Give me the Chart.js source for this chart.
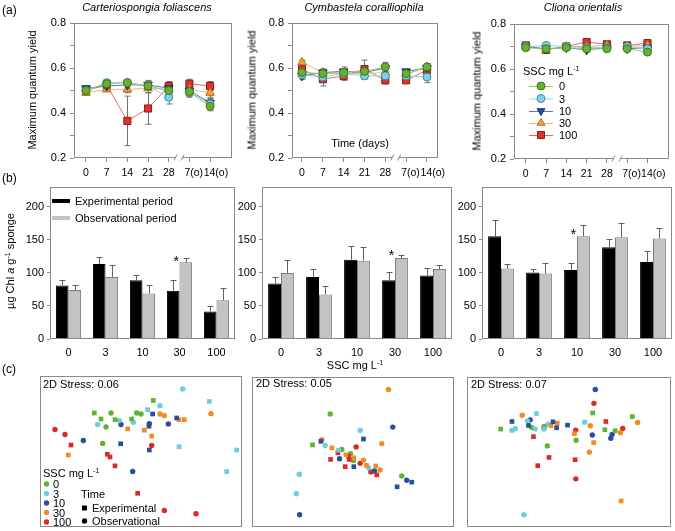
<!DOCTYPE html>
<html>
<head>
<meta charset="utf-8">
<script src="https://cdn.jsdelivr.net/npm/chart.js@4.4.0/dist/chart.umd.min.js"></script>
<style>
body { margin: 0; background: #fff; }
#fig { position: relative; width: 675px; height: 531px; overflow: hidden;
       font-family: "Liberation Sans", Arial, sans-serif; font-size: 11px; color: #000; }
#fig canvas { position: absolute; left: 0; top: 0; }
.t { position: absolute; white-space: nowrap; line-height: 1; transform: translate(-50%, -50%); }
.l { position: absolute; white-space: nowrap; line-height: 1; transform: translate(0, -50%); }
.v { position: absolute; white-space: nowrap; line-height: 1; transform: translate(-50%, -50%) rotate(-90deg); }
.sup { font-size: 7px; position: relative; top: -4px; }
.sw { position: absolute; }
</style>
</head>
<body>
<div id="fig">
  <canvas id="a1" width="675" height="531"></canvas>
  <canvas id="a2" width="675" height="531"></canvas>
  <canvas id="a3" width="675" height="531"></canvas>
  <canvas id="b1" width="675" height="531"></canvas>
  <canvas id="b2" width="675" height="531"></canvas>
  <canvas id="b3" width="675" height="531"></canvas>
  <canvas id="c1" width="675" height="531"></canvas>
  <canvas id="c2" width="675" height="531"></canvas>
  <canvas id="c3" width="675" height="531"></canvas>

  <div class="l" style="left:2px;top:10px;font-size:12px">(a)</div>
  <div class="l" style="left:2px;top:178px;font-size:12px">(b)</div>
  <div class="l" style="left:2px;top:369px;font-size:12px">(c)</div>

  <div class="t" style="left:147px;top:7px;font-style:italic">Carteriospongia foliascens</div>
  <div class="t" style="left:364px;top:7px;font-style:italic">Cymbastela coralliophila</div>
  <div class="t" style="left:583px;top:7px;font-style:italic">Cliona orientalis</div>

  <div class="v" style="left:32px;top:90px">Maximum quantum yield</div>
  <div class="v" style="left:252px;top:90px">Maximum quantum yield</div>
  <div class="v" style="left:477px;top:91px">Maximum quantum yield</div>
  <div class="t" style="left:360px;top:143px">Time (days)</div>

  <div class="l" style="left:523px;top:71px">SSC mg L<span class="sup">-1</span></div>
  <div class="l" style="left:559px;top:86px">0</div>
  <div class="l" style="left:559px;top:98.5px">3</div>
  <div class="l" style="left:559px;top:111px">10</div>
  <div class="l" style="left:559px;top:123px">30</div>
  <div class="l" style="left:559px;top:135px">100</div>

  <div class="v" style="left:10px;top:261px">µg Chl <i>a</i> g<span class="sup">-1</span> sponge</div>
  <div class="sw" style="left:52px;top:199px;width:18px;height:4px;background:#000"></div>
  <div class="sw" style="left:52px;top:216px;width:18px;height:4px;background:#c3c3c3"></div>
  <div class="l" style="left:75px;top:200.5px">Experimental period</div>
  <div class="l" style="left:75px;top:218px">Observational period</div>
  <div class="t" style="left:355px;top:365px">SSC mg L<span class="sup">-1</span></div>

  <div class="l" style="left:43px;top:384px">2D Stress: 0.06</div>
  <div class="l" style="left:256px;top:383px">2D Stress: 0.05</div>
  <div class="l" style="left:471px;top:384px">2D Stress: 0.07</div>

  <div class="l" style="left:43px;top:473px">SSC mg L<span class="sup">-1</span></div>
  <div class="l" style="left:53px;top:484px">0</div>
  <div class="l" style="left:53px;top:493.5px">3</div>
  <div class="l" style="left:53px;top:503px">10</div>
  <div class="l" style="left:53px;top:512.5px">30</div>
  <div class="l" style="left:53px;top:522px">100</div>
  <div class="l" style="left:81px;top:494px">Time</div>
  <div class="l" style="left:92px;top:508px">Experimental</div>
  <div class="l" style="left:92px;top:521px">Observational</div>
</div>

<script>
// ---- data ----
var timeLabels = ['0', '7', '14', '21', '28', '7(o)', '14(o)'];
var sscLabels = ['0', '3', '10', '30', '100'];

// (a) maximum quantum yield, one row per SSC level (0, 3, 10, 30, 100)
var yieldCf = [
    [0.50, 0.53, 0.535, 0.52, 0.50, 0.495, 0.43],
    [0.50, 0.535, 0.535, 0.52, 0.47, 0.49, 0.44],
    [0.51, 0.52, 0.525, 0.525, 0.51, 0.50, 0.445],
    [0.49, 0.505, 0.505, 0.51, 0.505, 0.505, 0.49],
    [0.50, 0.525, 0.365, 0.42, 0.52, 0.53, 0.52]
];
var yieldCfErr = [
    [0.01, 0.01, 0.01, 0.015, 0.02, 0.02, 0.02],
    [0.01, 0.01, 0.01, 0.02, 0.03, 0.02, 0.02],
    [0.01, 0.01, 0.01, 0.02, 0.02, 0.02, 0.02],
    [0.01, 0.01, 0.015, 0.02, 0.02, 0.02, 0.02],
    [0.02, 0.02, 0.11, 0.07, 0.02, 0.02, 0.02]
];
var yieldCc = [
    [0.58, 0.575, 0.58, 0.585, 0.605, 0.575, 0.605],
    [0.57, 0.56, 0.575, 0.565, 0.565, 0.565, 0.56],
    [0.565, 0.58, 0.585, 0.58, 0.60, 0.585, 0.60],
    [0.625, 0.58, 0.575, 0.575, 0.58, 0.57, 0.605],
    [0.595, 0.55, 0.565, 0.595, 0.545, 0.545, 0.59]
];
var yieldCcErr = [
    [0.015, 0.015, 0.015, 0.015, 0.02, 0.015, 0.015],
    [0.015, 0.015, 0.015, 0.015, 0.015, 0.015, 0.025],
    [0.015, 0.015, 0.02, 0.015, 0.015, 0.01, 0.015],
    [0.01, 0.015, 0.015, 0.02, 0.015, 0.015, 0.015],
    [0.02, 0.03, 0.02, 0.04, 0.015, 0.01, 0.015]
];
var yieldCo = [
    [0.695, 0.69, 0.695, 0.69, 0.69, 0.69, 0.675],
    [0.70, 0.705, 0.70, 0.695, 0.695, 0.70, 0.69],
    [0.70, 0.69, 0.695, 0.685, 0.695, 0.69, 0.695],
    [0.70, 0.685, 0.70, 0.70, 0.705, 0.70, 0.705],
    [0.705, 0.685, 0.70, 0.72, 0.71, 0.705, 0.715]
];
var yieldCoErr = [
    [0.01, 0.01, 0.01, 0.01, 0.01, 0.01, 0.01],
    [0.01, 0.01, 0.01, 0.01, 0.01, 0.01, 0.01],
    [0.01, 0.01, 0.01, 0.01, 0.01, 0.01, 0.01],
    [0.01, 0.01, 0.01, 0.01, 0.01, 0.01, 0.01],
    [0.01, 0.01, 0.01, 0.012, 0.01, 0.01, 0.01]
];

// (b) chlorophyll a, per SSC level
var chlCfExp = [81, 113.5, 89, 73, 41.5];
var chlCfExpErr = [9, 10, 8, 17, 8.5];
var chlCfObs = [74, 94, 69, 116, 58.5];
var chlCfObsErr = [8, 18, 13, 6, 19];
var chlCcExp = [84, 94, 120, 89, 96];
var chlCcExpErr = [10, 12, 20, 12.5, 11.5];
var chlCcObs = [100, 67.5, 118.5, 122.5, 106];
var chlCcObsErr = [19, 12.5, 20.5, 4, 5.5];
var chlCoExp = [155.5, 100.5, 104.5, 139, 116.5];
var chlCoExpErr = [24, 5, 10, 12, 16];
var chlCoObs = [106.5, 99, 155.5, 154, 152];
var chlCoObsErr = [7.5, 15.5, 17.5, 21, 16];
// significant difference marker: [category index, height]
var starCf = [3, 121];
var starCc = [3, 130];
var starCo = [2, 162];

// (c) nMDS ordination (arbitrary units, axis 2 pointing down): [x, y, ssc index, period 0=exp 1=obs]
var nmdsCf = [
    [283,250,0,0],[303,268,0,0],[345,270,0,0],[395,268,0,0],[460,212,0,0],
    [333,250,0,1],[410,250,0,1],[423,253,0,1],[318,292,0,1],[308,342,0,1],
    [443,240,1,0],[628,215,1,0],[537,352,1,0],[680,427,1,0],[710,362,1,0],
    [293,285,1,1],[358,273,1,1],[400,278,1,1],[480,228,1,1],[548,177,1,1],
    [458,253,2,0],[530,265,2,0],[447,290,2,0],[362,343,2,0],[448,362,2,0],
    [363,285,2,1],[448,282,2,1],[505,283,2,1],[250,333,2,1],[398,427,2,1],
    [537,270,3,0],[553,270,3,0],[433,302,3,0],[383,298,3,0],[455,320,3,0],[205,377,3,0],
    [480,253,3,1],[493,258,3,1],[633,252,3,1],
    [213,347,4,0],[322,375,4,0],[330,383,4,0],[345,410,4,0],[413,493,4,0],
    [165,300,4,1],[195,315,4,1],[455,348,4,1],[493,545,4,1],[588,555,4,1]
];
var nmdsCc = [
    [262,346,0,0],
    [315,252,0,1],[350,360,0,1],[376,373,0,1],[385,393,0,1],[530,440,0,1],
    [340,362,1,0],
    [405,302,1,1],[300,348,1,1],[380,390,1,1],[430,415,1,1],[222,435,1,1],[213,494,1,1],
    [415,328,2,0],[287,335,2,0],[386,412,2,0],[560,459,2,0],[516,473,2,0],
    [503,292,2,1],[343,388,2,1],[448,425,2,1],[545,453,2,1],[223,558,2,1],
    [290,330,3,0],[320,355,3,0],[362,376,3,0],[386,385,3,0],[424,408,3,0],[452,410,3,0],
    [490,178,3,1],[470,342,3,1],[415,392,3,1],[465,422,3,1],
    [338,370,4,0],[370,380,4,0],[372,390,4,0],[316,390,4,0],[360,412,4,0],[455,437,4,0],
    [393,352,4,1],[405,402,4,1],[437,428,4,1]
];
var nmdsCo = [
    [462,251,0,0],[184,300,0,0],[582,262,0,0],[499,302,0,0],[530,305,0,0],
    [278,295,0,1],[315,292,0,1],[412,334,0,1],[325,351,0,1],
    [292,253,1,0],[288,300,1,0],[315,300,1,0],
    [265,275,1,1],[218,304,1,1],[228,299,1,1],[327,285,1,1],[438,279,1,1],[254,560,1,1],
    [218,277,2,0],[268,289,2,0],[342,278,2,0],[353,296,2,0],[386,288,2,0],
    [470,180,2,1],[273,272,2,1],[461,318,2,1],[521,316,2,1],[517,328,2,1],
    [355,282,3,0],[336,290,3,0],[407,314,3,0],[465,341,3,0],[548,518,3,0],
    [249,258,3,1],[455,290,3,1],[598,280,3,1],[546,311,3,1],[452,370,3,1],
    [502,277,4,0],[283,323,4,0],[330,386,4,0],[296,411,4,0],[409,393,4,0],
    [466,222,4,1],[315,297,4,1],[411,303,4,1],[553,298,4,1],[411,451,4,1]
];

// ---- styles ----
var W = 675, H = 531;
var frameColor = '#8a8a8a';
var sscFill = ['#66b032', '#84d0e6', '#2b4c9b', '#f5a03c', '#e0302a'];
var sscEdge = ['#3d7a1c', '#3a8ba8', '#182d66', '#b86a1c', '#8c1c15'];
var sscLine = ['#92c96e', '#8fd3e6', '#5a74bb', '#f2b27a', '#e66a62'];
var sscShape = ['circle', 'circle', 'triangle', 'triangle', 'rect'];
var sscRot = [0, 0, 180, 0, 0];
var sscRad = [4, 4, 5, 5, 5];
var nmdsColor = ['#5cb531', '#6ecbe2', '#2a4d9f', '#f28a25', '#dc2a25'];

Chart.defaults.font.family = '"Liberation Sans", Arial, sans-serif';
Chart.defaults.font.size = 11;
Chart.defaults.color = '#000';
Chart.defaults.plugins.legend.display = false;
Chart.defaults.plugins.tooltip.enabled = false;

function padFor(box, left, bottom) {
    return { left: box.x - left, top: box.y, right: W - box.x - box.w, bottom: H - box.y - box.h - bottom };
}

// the "(o)" labels keep the day number over the tick, as in the original figure
function timeTick(v) {
    var s = timeLabels[v];
    if (s == '7(o)') return '\u2007\u2008' + s;
    if (s == '14(o)') return '\u2007\u2007' + s;
    return s;
}

function shape(c, kind, x, y, r) {
    c.beginPath();
    if (kind == 'circle') {
        c.arc(x, y, r, 0, Math.PI * 2);
    } else if (kind == 'rect') {
        c.rect(x - r, y - r, r * 2, r * 2);
    } else if (kind == 'up') {
        c.moveTo(x, y - r); c.lineTo(x + r * 0.87, y + r / 2); c.lineTo(x - r * 0.87, y + r / 2); c.closePath();
    } else {
        c.moveTo(x, y + r); c.lineTo(x + r * 0.87, y - r / 2); c.lineTo(x - r * 0.87, y - r / 2); c.closePath();
    }
}

// box around plot area, optional axis break
var framePlugin = {
    id: 'frame',
    afterDraw: function(chart, args, opts) {
        var a = chart.chartArea, c = chart.ctx;
        c.save();
        c.strokeStyle = frameColor;
        c.lineWidth = 1;
        c.strokeRect(Math.round(a.left) + 0.5, Math.round(a.top) + 0.5,
                     Math.round(a.right - a.left) - 1, Math.round(a.bottom - a.top) - 1);
        if (opts.breakAt != null) {
            var xb = chart.scales.x.getPixelForValue(opts.breakAt);
            var yb = Math.round(a.bottom) - 0.5;
            c.fillStyle = '#fff';
            c.fillRect(xb - 3, yb - 3, 6, 8);
            c.beginPath();
            c.moveTo(xb - 5, yb + 3); c.lineTo(xb - 2, yb - 3);
            c.moveTo(xb + 2, yb + 3); c.lineTo(xb + 5, yb - 3);
            c.stroke();
        }
        c.restore();
    }
};

var lineErrPlugin = {
    id: 'lineErr',
    beforeDatasetsDraw: function(chart) {
        var c = chart.ctx, xs = chart.scales.x, ys = chart.scales.y;
        c.save();
        c.strokeStyle = '#707070';
        c.lineWidth = 1;
        chart.data.datasets.forEach(function(ds) {
            ds.data.forEach(function(p, i) {
                var e = ds.errors[i];
                var x = Math.round(xs.getPixelForValue(p.x)) + 0.5;
                var y1 = ys.getPixelForValue(p.y - e), y2 = ys.getPixelForValue(p.y + e);
                c.beginPath();
                c.moveTo(x, y1); c.lineTo(x, y2);
                c.moveTo(x - 3, y1); c.lineTo(x + 3, y1);
                c.moveTo(x - 3, y2); c.lineTo(x + 3, y2);
                c.stroke();
            });
        });
        c.restore();
    }
};

var barErrPlugin = {
    id: 'barErr',
    afterDatasetsDraw: function(chart, args, opts) {
        var c = chart.ctx, ys = chart.scales.y;
        c.save();
        c.strokeStyle = '#606060';
        c.lineWidth = 1;
        chart.data.datasets.forEach(function(ds, d) {
            var meta = chart.getDatasetMeta(d);
            ds.data.forEach(function(v, i) {
                var x = Math.round(meta.data[i].x) + 0.5;
                var y1 = ys.getPixelForValue(v), y2 = Math.round(ys.getPixelForValue(v + ds.errors[i])) + 0.5;
                c.beginPath();
                c.moveTo(x, y1); c.lineTo(x, y2);
                c.moveTo(x - 3, y2); c.lineTo(x + 3, y2);
                c.stroke();
            });
        });
        if (opts.star) {
            var el = chart.getDatasetMeta(0).data[opts.star[0]];
            c.fillStyle = '#000';
            c.font = '14px "Liberation Sans", Arial, sans-serif';
            c.textAlign = 'center';
            c.textBaseline = 'middle';
            c.fillText('*', el.x + 3, ys.getPixelForValue(opts.star[1]) + 3);
        }
        c.restore();
    }
};

// legend symbols drawn on the canvas
var legendMarks = {
    id: 'legendMarks',
    afterDraw: function(chart, args, opts) {
        if (!opts.items) return;
        var c = chart.ctx;
        c.save();
        opts.items.forEach(function(it) {
            if (it.line) {
                c.strokeStyle = it.line; c.lineWidth = 1;
                c.beginPath(); c.moveTo(it.x - 12, it.y + 0.5); c.lineTo(it.x + 12, it.y + 0.5); c.stroke();
            }
            shape(c, it.kind, it.x, it.y, it.r);
            c.fillStyle = it.fill; c.fill();
            if (it.edge) { c.strokeStyle = it.edge; c.lineWidth = 1; c.stroke(); }
        });
        c.restore();
    }
};

function yieldChart(id, box, series, errs, xMin, xMax, legendItems) {
    var L = 30, B = 28;
    new Chart(document.getElementById(id), {
        type: 'line',
        data: {
            datasets: series.map(function(vals, k) {
                return {
                    label: sscLabels[k],
                    data: vals.map(function(v, i) { return { x: i, y: v }; }),
                    errors: errs[k],
                    borderColor: sscLine[k],
                    borderWidth: 1,
                    pointStyle: sscShape[k],
                    pointRotation: sscRot[k],
                    pointRadius: sscRad[k],
                    pointBackgroundColor: sscFill[k],
                    pointBorderColor: sscEdge[k],
                    pointBorderWidth: 1,
                    segment: { borderColor: function(s) { return s.p0DataIndex === 4 ? 'rgba(0,0,0,0)' : undefined; } }
                };
            })
        },
        options: {
            responsive: false,
            animation: false,
            layout: { padding: padFor(box, L, B) },
            plugins: { frame: { breakAt: 4.5 }, legendMarks: { items: legendItems } },
            scales: {
                x: {
                    type: 'linear', min: xMin, max: xMax,
                    afterBuildTicks: function(s) { s.ticks = timeLabels.map(function(t, i) { return { value: i }; }); },
                    afterFit: function(s) { s.height = B; },
                    ticks: { autoSkip: false, maxRotation: 0, padding: 5, font: { size: 10.5 }, callback: timeTick },
                    grid: { drawOnChartArea: false, tickLength: 4, color: frameColor },
                    border: { display: false }
                },
                y: {
                    min: 0.2, max: 0.8,
                    afterFit: function(s) { s.width = L; },
                    ticks: { stepSize: 0.1, padding: 4,
                             callback: function(v) { return Math.round(v * 10) % 2 === 0 ? v.toFixed(1) : ''; } },
                    grid: { drawOnChartArea: false, tickLength: 4, color: frameColor },
                    border: { display: false }
                }
            }
        },
        plugins: [lineErrPlugin, framePlugin, legendMarks]
    });
}

function chlChart(id, box, exp, expErr, obs, obsErr, star) {
    var L = 30, B = 28;
    new Chart(document.getElementById(id), {
        type: 'bar',
        data: {
            labels: sscLabels,
            datasets: [
                { label: 'Experimental period', data: exp, errors: expErr,
                  backgroundColor: '#000', borderColor: '#000', borderWidth: 1,
                  barPercentage: 1, categoryPercentage: 0.68 },
                { label: 'Observational period', data: obs, errors: obsErr,
                  backgroundColor: '#c3c3c3', borderColor: '#7d7d7d', borderWidth: 1,
                  barPercentage: 1, categoryPercentage: 0.68 }
            ]
        },
        options: {
            responsive: false,
            animation: false,
            layout: { padding: padFor(box, L, B) },
            plugins: { barErr: { star: star } },
            scales: {
                x: {
                    afterFit: function(s) { s.height = B; },
                    ticks: { padding: 7, maxRotation: 0 },
                    grid: { display: false, drawTicks: false },
                    border: { display: false }
                },
                y: {
                    min: 0, max: 230,
                    afterBuildTicks: function(s) { s.ticks = s.ticks.filter(function(t) { return t.value % 50 === 0; }); },
                    afterFit: function(s) { s.width = L; },
                    ticks: { stepSize: 50, padding: 3 },
                    grid: { drawOnChartArea: false, tickLength: 3, color: frameColor },
                    border: { display: false }
                }
            }
        },
        plugins: [framePlugin, barErrPlugin]
    });
}

function nmdsChart(id, box, pts, xr, yr, legendItems) {
    var sets = [];
    for (var period = 0; period < 2; period++) {
        for (var k = 0; k < 5; k++) {
            sets.push({
                label: sscLabels[k],
                data: pts.filter(function(p) { return p[2] === k && p[3] === period; })
                         .map(function(p) { return { x: p[0], y: p[1] }; }),
                pointStyle: period === 0 ? 'rect' : 'circle',
                pointRadius: period === 0 ? 3.3 : 2.7,
                pointBackgroundColor: nmdsColor[k],
                pointBorderWidth: 0
            });
        }
    }
    new Chart(document.getElementById(id), {
        type: 'scatter',
        data: { datasets: sets },
        options: {
            responsive: false,
            animation: false,
            layout: { padding: padFor(box, 0, 0) },
            plugins: { legendMarks: { items: legendItems } },
            scales: {
                x: { type: 'linear', display: false, min: xr[0], max: xr[1] },
                y: { type: 'linear', display: false, min: yr[0], max: yr[1], reverse: true }
            }
        },
        plugins: [framePlugin, legendMarks]
    });
}

var kinds = ['circle', 'circle', 'down', 'up', 'rect'];
var a3Legend = sscLabels.map(function(s, k) {
    return { x: 541, y: [86, 98.5, 111, 123, 135][k], kind: kinds[k], r: k < 2 ? 4 : (k == 4 ? 3.5 : 4.5),
             fill: sscFill[k], edge: sscEdge[k], line: sscLine[k] };
});
var c1Legend = sscLabels.map(function(s, k) {
    return { x: 46.5, y: [484, 493.5, 503, 512.5, 522][k], kind: 'circle', r: 2.7, fill: nmdsColor[k] };
}).concat([
    { x: 84.5, y: 508, kind: 'rect', r: 2.5, fill: '#000' },
    { x: 84.5, y: 521, kind: 'circle', r: 2.7, fill: '#000' }
]);

yieldChart('a1', { x: 74, y: 23, w: 158, h: 135 }, yieldCf, yieldCfErr, -0.58, 7.06);
yieldChart('a2', { x: 292, y: 23, w: 146, h: 135 }, yieldCc, yieldCcErr, -0.48, 6.53);
yieldChart('a3', { x: 514, y: 24, w: 159, h: 135 }, yieldCo, yieldCoErr, -0.58, 7.06, a3Legend);

chlChart('b1', { x: 50, y: 187, w: 185, h: 152 }, chlCfExp, chlCfExpErr, chlCfObs, chlCfObsErr, starCf);
chlChart('b2', { x: 262, y: 187, w: 190, h: 152 }, chlCcExp, chlCcExpErr, chlCcObs, chlCcObsErr, starCc);
chlChart('b3', { x: 482, y: 187, w: 190, h: 152 }, chlCoExp, chlCoExpErr, chlCoObs, chlCoObsErr, starCo);

nmdsChart('c1', { x: 40, y: 376, w: 202, h: 152 }, nmdsCf, [120, 726], [138, 595], c1Legend);
nmdsChart('c2', { x: 252, y: 377, w: 202, h: 151 }, nmdsCc, [80, 687], [140, 595]);
nmdsChart('c3', { x: 467, y: 377, w: 206, h: 151 }, nmdsCo, [82, 699], [142, 597]);
</script>
</body>
</html>
